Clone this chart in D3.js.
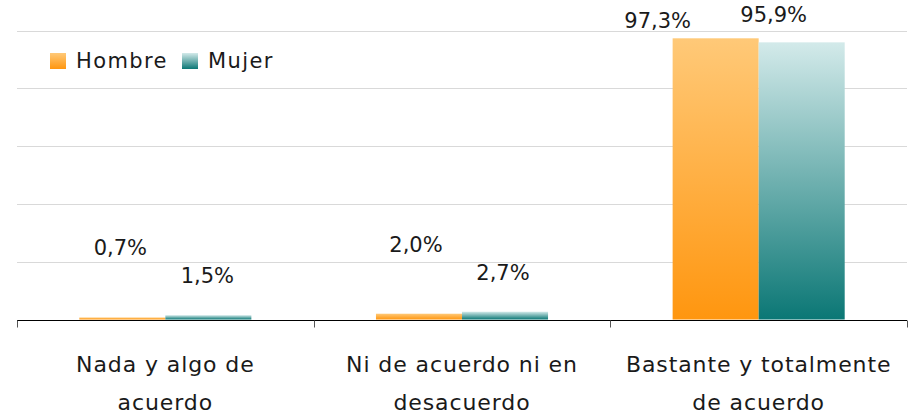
<!DOCTYPE html>
<html>
<head>
<meta charset="utf-8">
<script src="https://cdn.jsdelivr.net/npm/d3@7"></script>
<style>
  html, body { margin: 0; padding: 0; background: #fff; }
  svg { display: block; }
  text { font-family: "DejaVu Sans", sans-serif; fill: #1a1a1a; }
</style>
</head>
<body>
<svg id="chart" width="919" height="418"></svg>
<script>
// ---- data ----
const categories = ["Nada y algo de\nacuerdo", "Ni de acuerdo ni en\ndesacuerdo", "Bastante y totalmente\nde acuerdo"];
const seriesNames = ["Hombre", "Mujer"];
const hombre = [0.7, 2.0, 97.3];
const mujer = [1.5, 2.7, 95.9];
const yTicks = [0, 20, 40, 60, 80, 100];

// ---- layout ----
const W = 919, H = 418;
const margin = { left: 17, right: 12, top: 30.5, bottom: 98.5 };
const svg = d3.select("#chart");

const x = d3.scaleBand().domain(categories).range([margin.left, W - margin.right]).padding(0);
const bw = x.bandwidth();
const xs = d3.scaleBand().domain(seriesNames).range([bw * 0.21, bw * 0.79]).padding(0);
const y = d3.scaleLinear().domain([0, 100]).range([H - margin.bottom, margin.top]);

// gradients
const defs = svg.append("defs");
const grads = {
  Hombre: ["#ffc978", "#ff960f"],
  Mujer: ["#d3eaea", "#0b7775"]
};
Object.entries(grads).forEach(([k, c]) => {
  const g = defs.append("linearGradient").attr("id", "g-" + k)
    .attr("x1", 0).attr("y1", 0).attr("x2", 0).attr("y2", 1);
  g.append("stop").attr("offset", "0%").attr("stop-color", c[0]);
  g.append("stop").attr("offset", "100%").attr("stop-color", c[1]);
});

// gridlines
svg.append("g").selectAll("line")
  .data(yTicks.filter(d => d > 0))
  .join("line")
  .attr("x1", margin.left).attr("x2", W - margin.right)
  .attr("y1", d => Math.round(y(d)) + 0.5).attr("y2", d => Math.round(y(d)) + 0.5)
  .attr("stroke", "#d9d9d9").attr("stroke-width", 1);

// bars
const rows = categories.map((c, i) => ({ cat: c, values: [
  { s: "Hombre", v: hombre[i] }, { s: "Mujer", v: mujer[i] }
]}));

const barG = svg.append("g");
rows.forEach(r => {
  r.values.forEach(d => {
    barG.append("rect")
      .attr("x", x(r.cat) + xs(d.s))
      .attr("width", xs.bandwidth())
      .attr("y", y(d.v))
      .attr("height", y(0) - y(d.v))
      .attr("fill", `url(#g-${d.s})`);
  });
});

// axis
const axis = d3.axisBottom(x).tickSize(0).tickFormat("");
const axG = svg.append("g").attr("transform", `translate(0,${Math.round(y(0)) + 0.5})`).call(axis);
axG.select(".domain").attr("stroke", "#000").attr("d", `M${margin.left},0H${W - margin.right}`);
// boundary ticks
const bounds = categories.map(c => x(c)).concat([x(categories[categories.length - 1]) + bw]);
axG.selectAll(".btick").data(bounds).join("line").attr("class", "btick")
  .attr("x1", d => Math.round(d) + 0.5).attr("x2", d => Math.round(d) + 0.5)
  .attr("y1", 0).attr("y2", 7).attr("stroke", "#555");

// category labels
rows.forEach(r => {
  const lines = r.cat.split("\n");
  const t = svg.append("text").attr("text-anchor", "middle")
    .attr("font-size", 22).attr("letter-spacing", 0.9);
  lines.forEach((ln, j) => {
    t.append("tspan").attr("x", x(r.cat) + bw / 2).attr("y", 372 + j * 38).text(ln);
  });
});

// value labels (manual nudges as in the original)
const fmt = v => d3.format(".1f")(v).replace(".", ",") + "%";
const labelDx = { Hombre: [-2, -3, -58], Mujer: [-1, -2, -28] };
const labelDy = { Hombre: [62, 62, 10], Mujer: [32, 32, 20] };
rows.forEach((r, i) => {
  r.values.forEach(d => {
    svg.append("text").attr("text-anchor", "middle").attr("font-size", 21)
      .attr("x", x(r.cat) + xs(d.s) + xs.bandwidth() / 2 + labelDx[d.s][i])
      .attr("y", y(d.v) - labelDy[d.s][i])
      .text(fmt(d.v));
  });
});

// legend
const leg = svg.append("g");
const legX = [50, 182];
seriesNames.forEach((s, i) => {
  leg.append("rect").attr("x", legX[i]).attr("y", 53).attr("width", 16).attr("height", 16)
    .attr("fill", `url(#g-${s})`);
  leg.append("text").attr("x", legX[i] + 26).attr("y", 68).attr("font-size", 21)
    .attr("letter-spacing", 1.4).text(s);
});
</script>
</body>
</html>
